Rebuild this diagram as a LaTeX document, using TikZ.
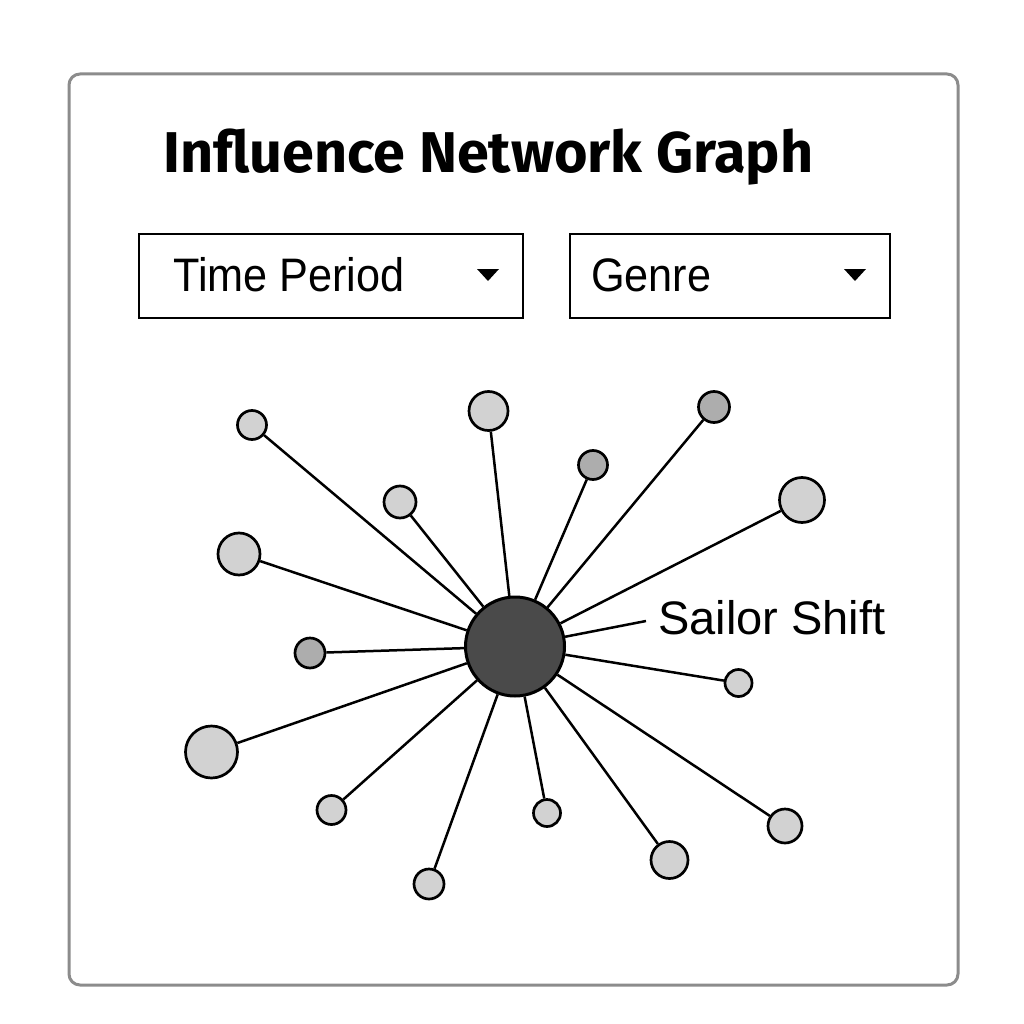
\documentclass[tikz,border=0pt]{standalone}
\usepackage{fontspec}
\setmainfont{Liberation Sans}
\newfontfamily\titlefont{Fira Sans}
\newfontfamily\dropfont[FakeStretch=0.92]{Liberation Sans}
\usetikzlibrary{calc}
\definecolor{leaf}{HTML}{D2D2D2}
\definecolor{leafdark}{HTML}{ADADAD}
\definecolor{hub}{HTML}{4A4A4A}
\definecolor{frame}{HTML}{8C8C8C}
\begin{document}
\begin{tikzpicture}[x=1pt,y=-1pt,
  leafnode/.style={circle,draw=black,line width=2.7pt,fill=leaf,inner sep=0pt,minimum size=#1},
  darknode/.style={circle,draw=black,line width=2.7pt,fill=leafdark,inner sep=0pt,minimum size=#1},
  hubnode/.style={circle,draw=black,line width=3pt,fill=hub,inner sep=0pt,minimum size=99pt},
  edge/.style={draw=black,line width=2.5pt},
  dropbox/.style={draw=black,line width=2.2pt,fill=white},
  droptext/.style={anchor=base west,inner sep=0pt,font=\dropfont\fontsize{47}{52}\selectfont},
  arrowtri/.style={fill=black,draw=none}
]
\useasboundingbox (0,0) rectangle (1024,1024);
\fill[white] (0,0) rectangle (1024,1024);
% frame
\draw[frame,line width=3pt,rounded corners=11pt] (69,74) rectangle (958,985);
% title
\node[anchor=base west,inner sep=0pt,font=\titlefont\bfseries\fontsize{57.5}{62}\selectfont] (title) at (163,173) {Influence Network Graph};
% dropdowns
\draw[dropbox] (139,234) rectangle (523,318);
\node[droptext] (tp) at (173,291) {Time Period};
\fill[arrowtri] (477,269) -- (499,269) -- (488,281) -- cycle;
\draw[dropbox] (570,234) rectangle (890,318);
\node[droptext] (gn) at (591,291) {Genre};
\fill[arrowtri] (844,269) -- (866,269) -- (855,281) -- cycle;
% hub
\node[hubnode] (c) at (515,646.5) {};
% leaves
\node[leafnode=29pt] (n1) at (252,425) {};
\node[leafnode=39pt] (n2) at (488.5,411) {};
\node[darknode=31pt] (n3) at (714,407) {};
\node[darknode=29pt] (n4) at (593,465) {};
\node[leafnode=32pt] (n5) at (400,502) {};
\node[leafnode=45pt] (n6) at (802,500) {};
\node[leafnode=42pt] (n7) at (239,554) {};
\node[darknode=30pt] (n8) at (310,653) {};
\node[leafnode=27pt] (n9) at (738.5,683) {};
\node[leafnode=52pt] (n10) at (211.5,752) {};
\node[leafnode=29pt] (n11) at (331.5,810) {};
\node[leafnode=27pt] (n12) at (547,813) {};
\node[leafnode=30pt] (n13) at (429,884) {};
\node[leafnode=37pt] (n14) at (669.5,860) {};
\node[leafnode=34pt] (n15) at (785,826) {};
% edges
\foreach \n in {n1,n2,n3,n4,n5,n6,n7,n8,n9,n10,n11,n12,n13,n14,n15}
  \draw[edge] (c) -- (\n);
% label
\coordinate (lbl) at (646,621);
\draw[edge] (c) -- (lbl);
\node[anchor=base west,inner sep=0pt,font=\fontsize{47}{52}\selectfont] (name) at (658,634) {Sailor Shift};
\end{tikzpicture}
\end{document}
